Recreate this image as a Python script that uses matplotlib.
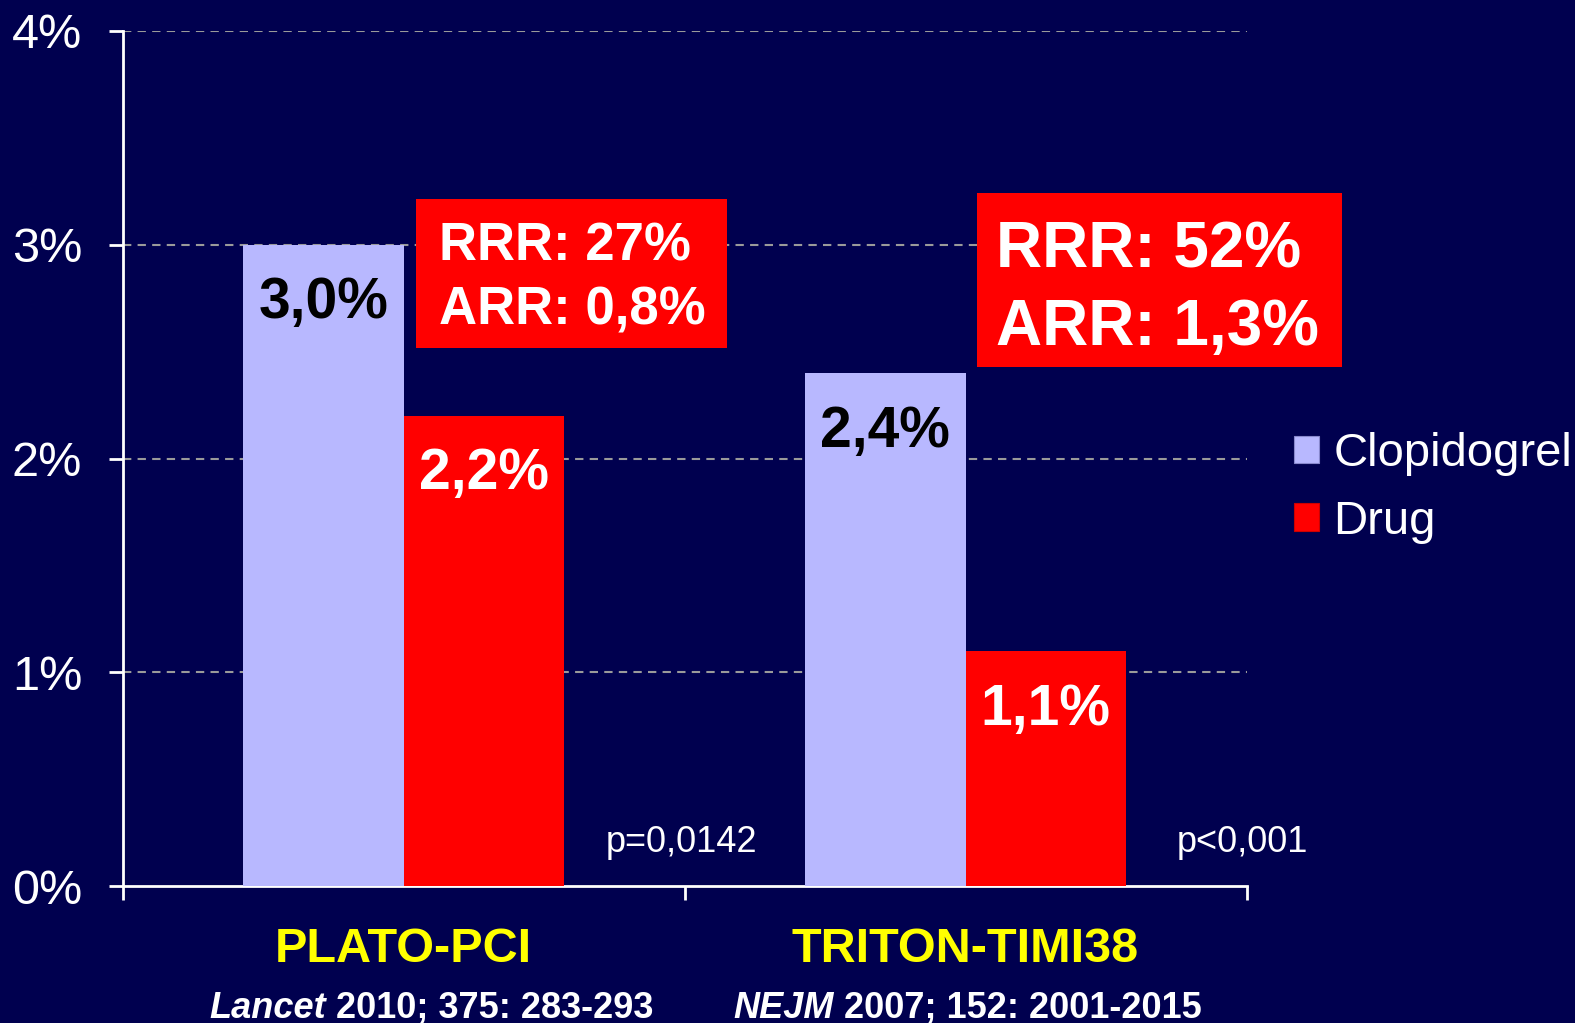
import matplotlib
matplotlib.use("Agg")
import matplotlib.pyplot as plt
from matplotlib.patches import Patch, Rectangle
from matplotlib.transforms import offset_copy

# data
trials = ["PLATO-PCI", "TRITON-TIMI38"]
journals = ["Lancet", "NEJM"]
refs = [" 2010; 375: 283-293", " 2007; 152: 2001-2015"]
clopidogrel = [3.0, 2.4]
drug = [2.2, 1.1]
p_values = ["p=0,0142", "p<0,001"]
rrr = ["RRR: 27%", "RRR: 52%"]
arr = ["ARR: 0,8%", "ARR: 1,3%"]
yticks = [0, 1, 2, 3, 4]

BG = "#00004F"
LIGHT = "#B8B8FF"
RED = "#FF0000"
YELLOW = "#FFFF00"
plt.rcParams['font.family'] = ["Liberation Sans", "DejaVu Sans"]

W, H = 1575, 1023
fig = plt.figure(figsize=(W / 100, H / 100), dpi=100, facecolor=BG)
ax = fig.add_axes([122.5 / W, (H - 886) / H, 1124 / W, 855 / H])
ax.set_facecolor(BG)

centers = [0.5, 1.5]
w = 0.2857
xc = [c - w / 2 for c in centers]
xd = [c + w / 2 for c in centers]

ax.bar(xc, clopidogrel, width=w, color=LIGHT, label="Clopidogrel", zorder=3)
ax.bar(xd, drug, width=w, color=RED, label="Drug", zorder=3)

# value labels inside bars
for x, v in zip(xc, clopidogrel):
    ax.text(x, v - 0.345, f"{v:.1f}%".replace(".", ","), ha="center", va="baseline",
            fontsize=41, fontweight="bold", color="black", zorder=4)
for x, v in zip(xd, drug):
    ax.text(x, v - 0.345, f"{v:.1f}%".replace(".", ","), ha="center", va="baseline",
            fontsize=41, fontweight="bold", color="white", zorder=4)

# RRR / ARR boxes
boxes = [(0.5214, 2.519, 0.5536, 0.696), (1.5196, 2.430, 0.6500, 0.813)]
text_x = [0.5625, 1.5536]
base1 = [2.924, 2.895]
base2 = [2.627, 2.533]
sizes = [38, 46]
for i in range(2):
    x0, y0, bw, bh = boxes[i]
    ax.add_patch(Rectangle((x0, y0), bw, bh, facecolor=RED, edgecolor="none",
                           zorder=5, clip_on=False))
    ax.text(text_x[i], base1[i], rrr[i], ha="left", va="baseline", color="white",
            fontsize=sizes[i], fontweight="bold", zorder=6, clip_on=False)
    ax.text(text_x[i], base2[i], arr[i], ha="left", va="baseline", color="white",
            fontsize=sizes[i], fontweight="bold", zorder=6, clip_on=False)

# p values
for x, p in zip([0.859, 1.875], p_values):
    ax.text(x, 0.16, p, ha="left", va="baseline", color="white", fontsize=26,
            zorder=4)

# category labels
for c, t in zip(centers, trials):
    ax.text(c, -0.357, t, ha="center", va="baseline", color=YELLOW, fontsize=35,
            fontweight="bold", clip_on=False)

# citations: italic journal + plain reference, centred as one line
cite_center = [0.55, 1.503]
fig.canvas.draw()
renderer = fig.canvas.get_renderer()
for cx, j, r in zip(cite_center, journals, refs):
    tj = ax.text(cx, -0.616, j, ha="right", va="baseline", color="white", fontsize=26,
                 fontweight="bold", fontstyle="italic", clip_on=False)
    tr = ax.text(cx, -0.616, r, ha="left", va="baseline", color="white", fontsize=26,
                 fontweight="bold", clip_on=False)
    wj = tj.get_window_extent(renderer).width
    wr = tr.get_window_extent(renderer).width
    shift = (wj - wr) / 2 * 72 / fig.dpi
    tj.set_transform(offset_copy(ax.transData, fig=fig, x=shift, y=0, units="points"))
    tr.set_transform(offset_copy(ax.transData, fig=fig, x=shift, y=0, units="points"))

# axes styling
ax.set_xlim(0, 2)
ax.set_ylim(0, 4)
ax.set_yticks(yticks)
ax.set_yticklabels([f"{t}%" for t in yticks])
ax.set_xticks([0, 1, 2])
ax.set_xticklabels([])
for t in yticks[1:]:
    ax.axhline(t, color="#9A9A9A", linestyle=(0, (4, 3)), linewidth=1.5, zorder=1)
for side in ["top", "right"]:
    ax.spines[side].set_visible(False)
for side in ["left", "bottom"]:
    ax.spines[side].set_color("white")
    ax.spines[side].set_linewidth(2)
ax.tick_params(axis="y", direction="out", length=10, width=2, colors="white",
               labelsize=35, pad=19)
ax.tick_params(axis="x", direction="out", length=10, width=2, colors="white")

handles = [Patch(facecolor=LIGHT, edgecolor="#8888CC", linewidth=0.8),
           Patch(facecolor=RED, edgecolor="#CC0000", linewidth=0.8)]
leg = fig.legend(handles, ["Clopidogrel", "Drug"], loc="center left",
                 bbox_to_anchor=(1294 / W, (H - 488) / H), frameon=False,
                 fontsize=34, handlelength=0.53, handleheight=0.53,
                 handletextpad=0.3, labelspacing=0.5, borderpad=0, borderaxespad=0)
for txt in leg.get_texts():
    txt.set_color("white")

fig.savefig("out.png", dpi=100, facecolor=BG)
